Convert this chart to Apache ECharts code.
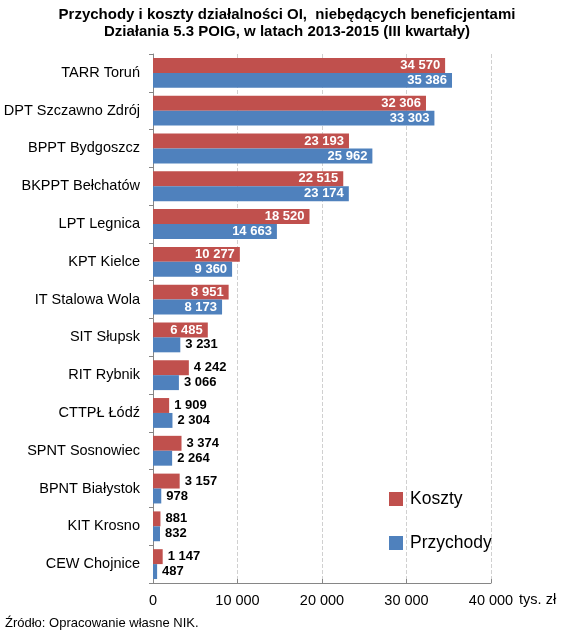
<!DOCTYPE html>
<html>
<head>
<meta charset="utf-8">
<script src="https://cdn.jsdelivr.net/npm/echarts@6/dist/echarts.min.js"></script>
<style>
html, body { margin: 0; padding: 0; background: #fff; }
#main { width: 563px; height: 637px; }
</style>
</head>
<body>
<div id="main"></div>
<script>
var categories = ['TARR Toruń', 'DPT Szczawno Zdrój', 'BPPT Bydgoszcz', 'BKPPT Bełchatów', 'LPT Legnica',
	'KPT Kielce', 'IT Stalowa Wola', 'SIT Słupsk', 'RIT Rybnik', 'CTTPŁ Łódź', 'SPNT Sosnowiec',
	'BPNT Białystok', 'KIT Krosno', 'CEW Chojnice'];
var koszty = [34570, 32306, 23193, 22515, 18520, 10277, 8951, 6485, 4242, 1909, 3374, 3157, 881, 1147];
var przychody = [35386, 33303, 25962, 23174, 14663, 9360, 8173, 3231, 3066, 2304, 2264, 978, 832, 487];
var xTicks = [0, 10000, 20000, 30000, 40000];

var font = 'Liberation Sans, Arial, sans-serif';

function fmt(v) {
	return String(v).replace(/\B(?=(\d{3})+(?!\d))/g, ' ');
}

// big bars get white label inside, small ones black label outside
function barData(values) {
	return values.map(function(v) {
		var inside = v >= 5000;
		return {
			value: v,
			label: {
				position: inside ? 'insideRight' : 'right',
				color: inside ? '#fff' : '#000',
				distance: 5
			}
		};
	});
}

var option = {
	animation: false,
	title: {
		text: 'Przychody i koszty działalności OI,  niebędących beneficjentami\nDziałania 5.3 POIG, w latach 2013-2015 (III kwartały)',
		left: 282,
		textAlign: 'center',
		top: 1,
		textStyle: {
			fontFamily: font,
			fontSize: 15,
			fontWeight: 'bold',
			color: '#000',
			lineHeight: 17
		}
	},
	graphic: [{
		type: 'text',
		left: 5,
		top: 617,
		style: {
			text: 'Źródło: Opracowanie własne NIK.',
			font: '13px ' + font,
			fill: '#000'
		}
	}],
	legend: {
		orient: 'vertical',
		left: 384,
		top: 484,
		itemWidth: 14,
		itemHeight: 14,
		itemGap: 24,
		icon: 'rect',
		textStyle: { fontFamily: font, fontSize: 17.5, color: '#000', lineHeight: 20, padding: [0, 0, 0, 2] },
		data: ['Koszty', 'Przychody']
	},
	grid: {
		left: 153,
		right: 72,
		top: 54,
		bottom: 54,
		outerBoundsMode: 'none'
	},
	xAxis: {
		type: 'value',
		min: xTicks[0],
		max: xTicks[xTicks.length - 1],
		interval: 10000,
		name: 'tys. zł',
		nameLocation: 'end',
		nameGap: 26,
		nameTextStyle: {
			fontFamily: font,
			fontSize: 14.5,
			color: '#000',
			align: 'left',
			verticalAlign: 'top',
			lineHeight: 16,
			padding: [9, 0, 0, 0]
		},
		axisLine: { show: true, lineStyle: { color: '#868686' } },
		axisTick: { show: true, length: 4, inside: true, lineStyle: { color: '#868686' } },
		splitLine: { show: true, lineStyle: { type: 'dashed', color: '#d0d0d0' } },
		axisLabel: {
			fontFamily: font,
			fontSize: 14.5,
			color: '#000',
			margin: 10,
			formatter: function(v) { return fmt(v); }
		}
	},
	yAxis: {
		type: 'category',
		inverse: true,
		data: categories,
		axisLine: { show: true, lineStyle: { color: '#868686' } },
		axisTick: { show: true, length: 4, lineStyle: { color: '#868686' } },
		axisLabel: {
			fontFamily: font,
			fontSize: 14.5,
			color: '#000',
			margin: 13
		}
	},
	series: [{
		name: 'Koszty',
		type: 'bar',
		data: barData(koszty),
		barGap: '0%',
		barCategoryGap: '21%',
		itemStyle: { color: '#C0504D' },
		label: {
			show: true,
			fontFamily: font,
			fontSize: 13,
			fontWeight: 'bold',
			formatter: function(p) { return fmt(p.value); }
		}
	}, {
		name: 'Przychody',
		type: 'bar',
		data: barData(przychody),
		barGap: '0%',
		barCategoryGap: '21%',
		itemStyle: { color: '#4F81BD' },
		label: {
			show: true,
			fontFamily: font,
			fontSize: 13,
			fontWeight: 'bold',
			formatter: function(p) { return fmt(p.value); }
		}
	}]
};

var my = echarts.init(document.getElementById('main'));
my.setOption(option);
</script>
</body>
</html>
